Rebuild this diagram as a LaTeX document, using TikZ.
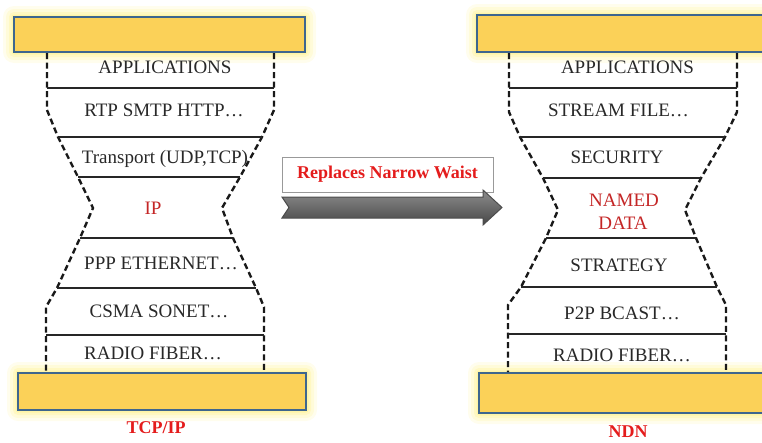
\documentclass[tikz,border=0pt]{standalone}
\usepackage{fontspec}
\setmainfont{Liberation Serif}
\definecolor{boxyellow}{RGB}{251,209,88}
\definecolor{boxblue}{RGB}{62,102,142}
\definecolor{glowy}{RGB}{255,238,110}
\definecolor{ipred}{RGB}{196,38,38}
\definecolor{hotred}{RGB}{228,28,28}
\definecolor{laytext}{RGB}{40,40,40}
\newcommand\glowbar[5]{%
  \foreach \g/\o in {11/0.12,8/0.16,5/0.22,2.5/0.32}{%
    \fill[glowy,opacity=\o,rounded corners=\g pt] (#2-\g,#3-\g) rectangle (#4+\g,#5+\g);}%
  \node[basebar,minimum width={(#4-#2)*1pt},minimum height={(#5-#3)*1pt}] (#1) at ({(#2+#4)/2},{(#3+#5)/2}) {};%
}
\begin{document}
\begin{tikzpicture}[x=1pt,y=-1pt,
  lay/.style={font=\fontsize{19}{21}\selectfont, text=laytext, inner sep=0pt, anchor=base},
  redlay/.style={lay, text=ipred},
  sidewall/.style={draw=black!90, line width=2.4pt, dash pattern=on 6pt off 3.5pt},
  sepline/.style={draw=black!85, line width=1.8pt},
  basebar/.style={fill=boxyellow, draw=boxblue, line width=2pt, inner sep=0pt, rectangle},
  titlelab/.style={font=\bfseries\fontsize{18}{20}\selectfont, text=hotred, inner sep=0pt, anchor=base},
  arrowbody/.style={draw=black!70, line width=1pt, top color=black!45, middle color=black!12, bottom color=black!72}
]
\useasboundingbox (0,0) rectangle (762,442);

% ---------- yellow bars ----------
\glowbar{ltop}{14}{17}{305}{52}
\glowbar{lbot}{18}{373}{306}{410}
\glowbar{rtop}{477}{15}{790}{52}
\glowbar{rbot}{479}{373}{790}{413}

% ---------- left hourglass ----------
\draw[sidewall] (47,53) -- (47,110) -- (58,137) -- (78,177) -- (93,208) -- (80,238) -- (57,288) -- (46,307) -- (46,372);
\draw[sidewall] (274,53) -- (274,110) -- (262,137) -- (240,177) -- (222,208) -- (233,238) -- (256,288) -- (264,307) -- (264,372);
\draw[sepline] (47,88) -- (274,88);
\draw[sepline] (58,137) -- (262,137);
\draw[sepline] (78,177) -- (240,177);
\draw[sepline] (80,238) -- (233,238);
\draw[sepline] (57,288) -- (256,288);
\draw[sepline] (46,335) -- (264,335);

\node[lay] (lapp) at (165,73.5) {APPLICATIONS};
\node[lay] (lrtp) at (164,116.5) {RTP SMTP HTTP…};
\node[lay] (ltrn) at (165,163.5) {Transport (UDP,TCP)};
\node[redlay] (lip) at (153,214.5) {IP};
\node[lay] (lppp) at (161,269.5) {PPP ETHERNET…};
\node[lay] (lcsma) at (159,317.5) {CSMA SONET…};
\node[lay] (lrad) at (153,359.5) {RADIO FIBER…};
\node[titlelab] (ltitle) at (156,433.5) {TCP/IP};

% ---------- right hourglass ----------
\draw[sidewall] (509,53) -- (509,112) -- (520,137) -- (543,178) -- (558,210) -- (546,238) -- (521,287) -- (508,305) -- (508,372);
\draw[sidewall] (737,53) -- (737,112) -- (725,137) -- (701,178) -- (685,210) -- (696,238) -- (717,287) -- (726,305) -- (726,372);
\draw[sepline] (509,88) -- (737,88);
\draw[sepline] (520,137) -- (725,137);
\draw[sepline] (543,178) -- (701,178);
\draw[sepline] (546,238) -- (696,238);
\draw[sepline] (521,287) -- (717,287);
\draw[sepline] (508,334) -- (726,334);

\node[lay] (rapp) at (627.5,73.5) {APPLICATIONS};
\node[lay] (rstr) at (618.5,116.5) {STREAM FILE…};
\node[lay] (rsec) at (617,163.5) {SECURITY};
\node[redlay] (rnamed) at (624,206.5) {NAMED};
\node[redlay] (rdata) at (623,229.5) {DATA};
\node[lay] (rstrat) at (619,271.5) {STRATEGY};
\node[lay] (rp2p) at (622,319.5) {P2P BCAST…};
\node[lay] (rrad) at (622,361.5) {RADIO FIBER…};
\node[titlelab] (rtitle) at (628,437) {NDN};

% ---------- middle arrow ----------
\node[draw=black!40, line width=1pt, fill=white, minimum width=211pt, minimum height=35pt, inner sep=0pt,
      font=\bfseries\fontsize{18}{20}\selectfont, text=hotred] (replab) at (387.5,174.5) {Replaces Narrow Waist};
\path[arrowbody] (282,197) -- (483,197) -- (483,190) -- (502,207.5) -- (483,225) -- (483,218) -- (282,218) -- (289,207.5) -- cycle;
\end{tikzpicture}
\end{document}
